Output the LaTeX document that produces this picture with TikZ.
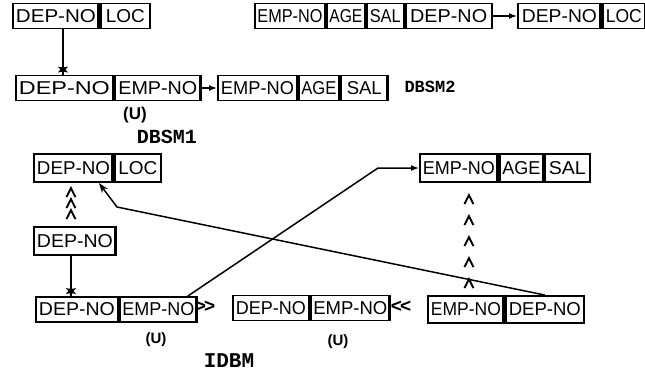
\documentclass[tikz,border=0pt]{standalone}
\usepackage{fontspec}
\setmainfont{Liberation Sans}
\newfontfamily\tagfont{Liberation Mono}
\usetikzlibrary{arrows.meta,shapes.geometric,decorations.markings}

% field lettering stretched to the width of its box
\newcommand\ftxt[3][6]{\resizebox{\dimexpr #2pt-#1pt\relax}{13pt}{#3}}

\tikzset{
  field/.style={draw, line width=1.9pt, inner sep=0pt, anchor=west,
    minimum height=25pt, font=\fontsize{18}{18}\selectfont},
  tall/.style={minimum height=28pt},
  heavy/.style={path picture={\draw[line width=4pt]
    (path picture bounding box.north east) -- (path picture bounding box.south east);}},
  conn/.style={line width=1.5pt},
  tip/.style={-{Latex[length=8pt,width=6pt]}},
  backtip/.style={-{Stealth[length=10pt,width=7pt]}},
  starhead/.style={star, star points=6, star point ratio=2.4, fill,
    inner sep=0pt, minimum size=12pt},
  chevrons/.style n args={3}{postaction={decorate}, decoration={markings,
    mark=between positions #1 and #2 step #3 with
      {\draw[line width=1.9pt, line join=miter] (-9pt,-4.5pt) -- (0pt,0pt) -- (-9pt,4.5pt);}}},
  utag/.style={font=\bfseries\fontsize{15}{15}\selectfont},
  modeltag/.style={font=\tagfont\bfseries\fontsize{20}{20}\selectfont},
  op/.style={font=\bfseries\fontsize{19}{19}\selectfont}
}

\begin{document}
\begin{tikzpicture}[x=1pt,y=-1pt]
\fill[white] (0,0) rectangle (645,373);
\useasboundingbox (0,0) rectangle (645,373);

% ---- DBSM1 / DBSM2 ----
\node[field, heavy, minimum width=86pt] (r1a) at (12,16) {\ftxt{86}{DEP-NO}};
\node[field, minimum width=49pt] (r1b) at (r1a.east) {\ftxt[10]{49}{LOC}};

\node[field, minimum width=97pt] (r2a) at (15,88) {\ftxt{97}{DEP-NO}};
\node[field, heavy, minimum width=86pt] (r2b) at (r2a.east) {\ftxt[7]{86}{EMP-NO}};

\node[field, minimum width=79pt] (r3a) at (217,88) {\ftxt{79}{EMP-NO}};
\node[field, minimum width=40pt] (r3b) at (r3a.east) {\ftxt[5]{40}{AGE}};
\node[field, heavy, minimum width=47pt] (r3c) at (r3b.east) {\ftxt[12]{47}{SAL}};

\node[field, minimum width=70pt] (r4a) at (254,16) {\ftxt[5]{70}{EMP-NO}};
\node[field, minimum width=38pt] (r4b) at (r4a.east) {\ftxt[5]{38}{AGE}};
\node[field, minimum width=37pt] (r4c) at (r4b.east) {\ftxt[6]{37}{SAL}};
\node[field, minimum width=86pt] (r4d) at (r4c.east) {\ftxt[9]{86}{DEP-NO}};

\node[field, heavy, minimum width=83pt] (r5a) at (517,16) {\ftxt[8]{83}{DEP-NO}};
\node[field, minimum width=42pt] (r5b) at (r5a.east) {\ftxt[6]{42}{LOC}};

\draw[conn] ([xshift=7pt]r1a.south) -- ([xshift=7pt]r1a.south |- r2a.north)
  node[starhead, yshift=5pt] {};
\draw[conn, tip] (r2b.east) -- (r3a.west);
\draw[conn, tip] (r4d.east) -- (r5a.west);

\node[font=\bfseries\fontsize{17}{17}\selectfont] (u1) at (135,115) {(U)};
\node[modeltag] (dbsm1) at (167,137) {DBSM1};
\node[font=\tagfont\bfseries\fontsize{17}{17}\selectfont] (dbsm2) at (430,87) {DBSM2};

% ---- IDBM ----
\node[field, tall, heavy, minimum width=79pt] (r6a) at (33,168) {\ftxt{79}{DEP-NO}};
\node[field, tall, minimum width=46pt] (r6b) at (r6a.east) {\ftxt[7]{46}{LOC}};

\node[field, tall, heavy, minimum width=82pt] (r7a) at (33,241) {\ftxt{82}{DEP-NO}};

\node[field, tall, heavy, minimum width=78pt] (r11a) at (419,168) {\ftxt{78}{EMP-NO}};
\node[field, tall, minimum width=43pt] (r11b) at (r11a.east) {\ftxt[5]{43}{AGE}};
\node[field, tall, minimum width=45pt] (r11c) at (r11b.east) {\ftxt[8]{45}{SAL}};

\node[field, minimum width=82pt] (r8a) at (35,309.5) {\ftxt{82}{DEP-NO}};
\node[field, heavy, minimum width=77pt] (r8b) at (r8a.east) {\ftxt[5]{77}{EMP-NO}};

\node[field, minimum width=76pt] (r9a) at (232,308) {\ftxt{76}{DEP-NO}};
\node[field, heavy, minimum width=79pt] (r9b) at (r9a.east) {\ftxt[5]{79}{EMP-NO}};

\node[field, minimum height=27pt, heavy, minimum width=76pt] (r10a) at (427,309.5) {\ftxt{76}{EMP-NO}};
\node[field, minimum height=27pt, minimum width=78pt] (r10b) at (r10a.east) {\ftxt{78}{DEP-NO}};

\node[op] (gt) at (205,307) {>\kern-2pt>};
\node[op] (lt) at (401,307) {<\kern-2pt<};

\node[utag] (u2) at (156,340) {(U)};
\node[utag] (u3) at (338,342) {(U)};
\node[font=\tagfont\bfseries\fontsize{21}{21}\selectfont] (idbm) at (229,361) {IDBM};

% chevron links
\path[chevrons={16pt}{39pt}{11pt}]
  ([xshift=-4pt]r7a.north) -- ([xshift=-4pt]r7a.north |- r6a.south);
\path[chevrons={16pt}{101pt}{21pt}]
  ([xshift=3pt]r10a.north) -- ([xshift=3pt]r10a.north |- r11a.south);

% star link
\draw[conn] ([xshift=-4pt]r7a.south) -- ([xshift=-4pt]r7a.south |- r8a.north)
  node[starhead, yshift=5pt] {};

% long crossing links
\coordinate (k1) at (378,168);
\coordinate (k2) at (117,207);
\draw[conn, tip] ([xshift=-10pt]r8b.north east) -- (k1) -- (r11a.west);
\draw[conn, backtip] (r10b.north) -- (k2) -- ([xshift=-15pt]r6a.south east);
\end{tikzpicture}
\end{document}
